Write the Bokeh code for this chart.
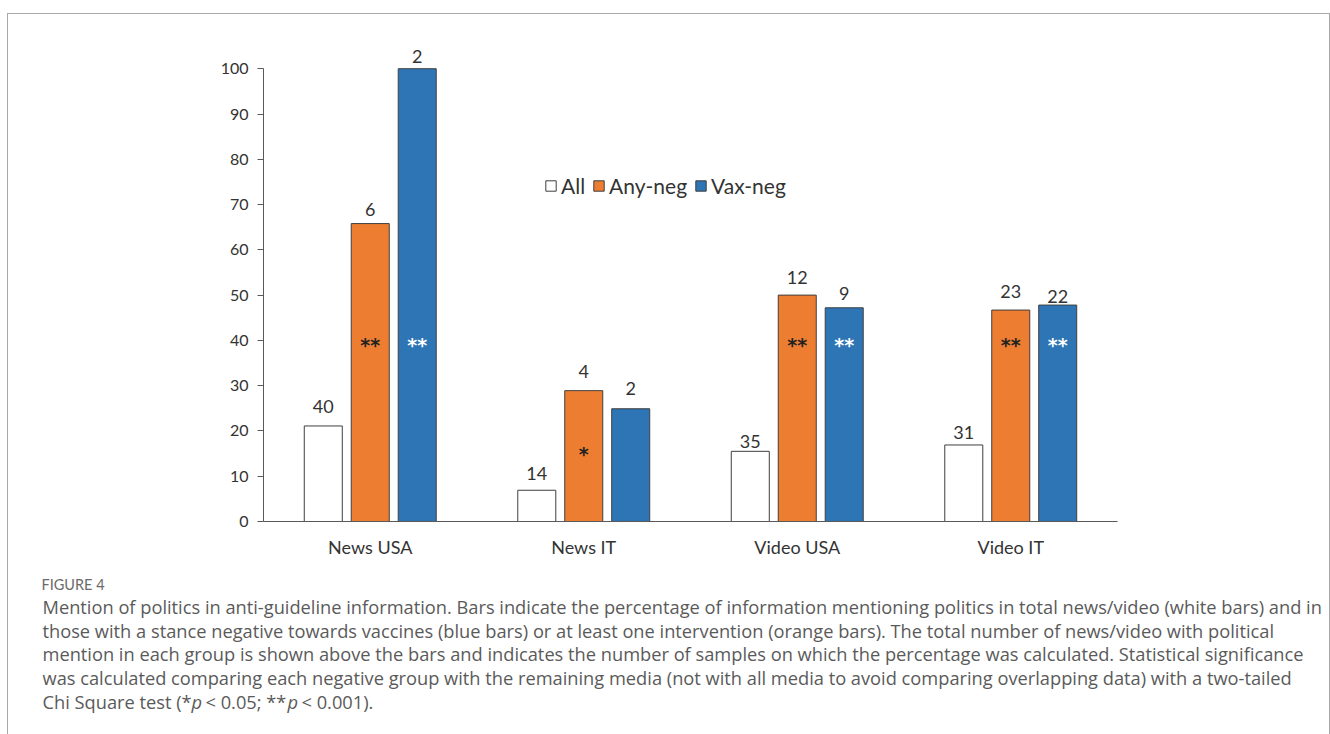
from bokeh.plotting import figure
from bokeh.layouts import column
from bokeh.models import (ColumnDataSource, FactorRange, Range1d, Legend, LegendItem,
                          FixedTicker)
from bokeh.transform import dodge
from bokeh.embed import file_html
from bokeh.resources import INLINE
from bokeh.core.properties import value

# ---------------- data ----------------
categories = ["News USA", "News IT", "Video USA", "Video IT"]
series_names = ["All", "Any-neg", "Vax-neg"]
pct_all = [21.1, 6.9, 15.5, 16.9]
pct_any = [65.8, 28.9, 50.0, 46.7]
pct_vax = [100.0, 24.9, 47.2, 47.8]
n_all = ["40", "14", "35", "31"]
n_any = ["6", "4", "12", "23"]
n_vax = ["2", "2", "9", "22"]
sig_any = ["**", "*", "**", "**"]
sig_vax = ["**", "", "**", "**"]
y_ticks = [0, 10, 20, 30, 40, 50, 60, 70, 80, 90, 100]

caption_title = "FIGURE 4"
caption_lines = [
    "Mention of politics in anti-guideline information. Bars indicate the percentage of information mentioning politics in total news/video (white bars) and in",
    "those with a stance negative towards vaccines (blue bars) or at least one intervention (orange bars). The total number of news/video with political",
    "mention in each group is shown above the bars and indicates the number of samples on which the percentage was calculated. Statistical significance",
    "was calculated comparing each negative group with the remaining media (not with all media to avoid comparing overlapping data) with a two-tailed",
]
caption_last = ["Chi Square test (*", "p", "< 0.05; **", "p", "< 0.001)."]
caption_last_style = ["normal", "italic", "normal", "italic", "normal"]

# ---------------- style / layout ----------------
OX, OY = 8, 14            # content origin inside the border box (canvas px)
CW = 1321                 # content width
H1 = 555                  # chart figure height
H2 = 734 - OY - H1        # caption figure height
FL, FR, FT, FB = 263, 1117, 32, 521   # frame edges in canvas px
ORANGE = "#ED7D31"
BLUE = "#2E75B6"
EDGE = "#3f3f3f"
TXT = "#333333"
FONT = "Lato"
CAP_FONT = "Open Sans"
CAP_SIZE = "18.25px"
CAP_COLOR = "#5a5a5a"
CAP_X = 42

p = figure(x_range=FactorRange(factors=categories, range_padding=0),
           y_range=Range1d(0, 108),
           width=CW, height=H1,
           min_border_left=FL - OX, min_border_right=OX + CW - FR,
           min_border_top=FT - OY, min_border_bottom=OY + H1 - FB,
           output_backend="svg", toolbar_location=None, frame_align=False)
p.outline_line_color = None
p.xgrid.grid_line_color = None
p.ygrid.grid_line_color = None
p.background_fill_color = "white"
p.border_fill_color = "white"

# axes
p.yaxis.ticker = FixedTicker(ticks=y_ticks)
p.yaxis.bounds = (0, 100)
p.yaxis.minor_tick_line_color = None
p.yaxis.major_tick_in = 0
p.yaxis.major_tick_out = 6
p.yaxis.axis_line_color = "#595959"
p.yaxis.major_tick_line_color = "#595959"
p.yaxis.major_label_text_font = FONT
p.yaxis.major_label_text_font_size = "16px"
p.yaxis.major_label_text_color = TXT
p.yaxis.major_label_standoff = 9

p.xaxis.major_tick_line_color = None
p.xaxis.minor_tick_line_color = None
p.xaxis.axis_line_color = "#595959"
p.xaxis.major_label_text_font = FONT
p.xaxis.major_label_text_font_size = "18px"
p.xaxis.major_label_text_color = TXT
p.xaxis.major_label_standoff = 8

src = ColumnDataSource(dict(cat=categories, all=pct_all, any=pct_any, vax=pct_vax,
                            n_all=n_all, n_any=n_any, n_vax=n_vax,
                            sig_any=sig_any, sig_vax=sig_vax,
                            sig_y_any=[40, 16, 40, 40], sig_y_vax=[40, 40, 40, 40],
                            off_all=[-19, -17, -10, -12], off_any=[-14, -19, -18, -19],
                            off_vax=[-12, -20, -14, -9]))

BW = 0.178
STEP = 0.22
r_all = p.vbar(x=dodge("cat", -STEP, range=p.x_range), top="all", width=BW, source=src,
               fill_color="white", line_color=EDGE, line_width=1)
r_any = p.vbar(x=dodge("cat", 0, range=p.x_range), top="any", width=BW, source=src,
               fill_color=ORANGE, line_color=EDGE, line_width=1)
r_vax = p.vbar(x=dodge("cat", STEP, range=p.x_range), top="vax", width=BW, source=src,
               fill_color=BLUE, line_color=EDGE, line_width=1)

for off, top, txt, yo in [(-STEP, "all", "n_all", "off_all"), (0, "any", "n_any", "off_any"),
                          (STEP, "vax", "n_vax", "off_vax")]:
    p.text(x=dodge("cat", off, range=p.x_range), y=top, text=txt, source=src,
           y_offset=yo, text_align="center", text_baseline="middle",
           text_font=value(FONT), text_font_size="18px", text_color=TXT)

# significance marks
p.text(x=dodge("cat", 0, range=p.x_range), y="sig_y_any", text="sig_any", source=src,
       y_offset=5, text_align="center", text_baseline="middle",
       text_font=value("DejaVu Sans"), text_font_size="19px", text_font_style="bold",
       text_color="#222222")
p.text(x=dodge("cat", STEP, range=p.x_range), y="sig_y_vax", text="sig_vax", source=src,
       y_offset=5, text_align="center", text_baseline="middle",
       text_font=value("DejaVu Sans"), text_font_size="19px", text_font_style="bold",
       text_color="#ffffff")

legend = Legend(items=[LegendItem(label=series_names[0], renderers=[r_all]),
                       LegendItem(label=series_names[1], renderers=[r_any]),
                       LegendItem(label=series_names[2], renderers=[r_vax])],
                orientation="horizontal", location=(544 - FL, FB - 198),
                border_line_color=None, background_fill_alpha=0,
                label_text_font=FONT, label_text_font_size="21px", label_text_color=TXT,
                glyph_width=13, glyph_height=13, label_standoff=4, spacing=7,
                padding=0, margin=0, label_height=21)
p.add_layout(legend)

# ---------------- caption figure (data coords == canvas px) ----------------
c = figure(x_range=Range1d(OX, OX + CW), y_range=Range1d(OY + H1 + H2, OY + H1),
           width=CW, height=H2, min_border=0, x_axis_type=None, y_axis_type=None,
           output_backend="svg", toolbar_location=None, frame_align=False)
c.outline_line_color = None
c.xgrid.grid_line_color = None
c.ygrid.grid_line_color = None
c.border_fill_color = "white"

c.text(x=[CAP_X - 1], y=[584], text=[caption_title], text_baseline="middle",
       text_font=value(FONT), text_font_size="14.5px", text_color="#6a6a6a")
c.text(x=[CAP_X] * len(caption_lines), y=[606 + i * 23.7 for i in range(len(caption_lines))],
       text=caption_lines, text_baseline="middle",
       text_font=value(CAP_FONT), text_font_size=CAP_SIZE, text_color=CAP_COLOR)
part_x = [CAP_X, 191, 205, 287, 301]
for t, st, xx in zip(caption_last, caption_last_style, part_x):
    c.text(x=[xx], y=[606 + 4 * 23.7], text=[t], text_baseline="middle",
           text_font=value(CAP_FONT), text_font_size=CAP_SIZE, text_font_style=st,
           text_color=CAP_COLOR)

root = column(p, c, spacing=0,
              styles={"margin-left": "7px", "margin-top": "13px",
                      "border-left": "1px solid #a9a9a9", "border-top": "1px solid #a9a9a9",
                      "border-right": "1px solid #a9a9a9"})

open("out.html", "w").write(file_html(root, INLINE))
